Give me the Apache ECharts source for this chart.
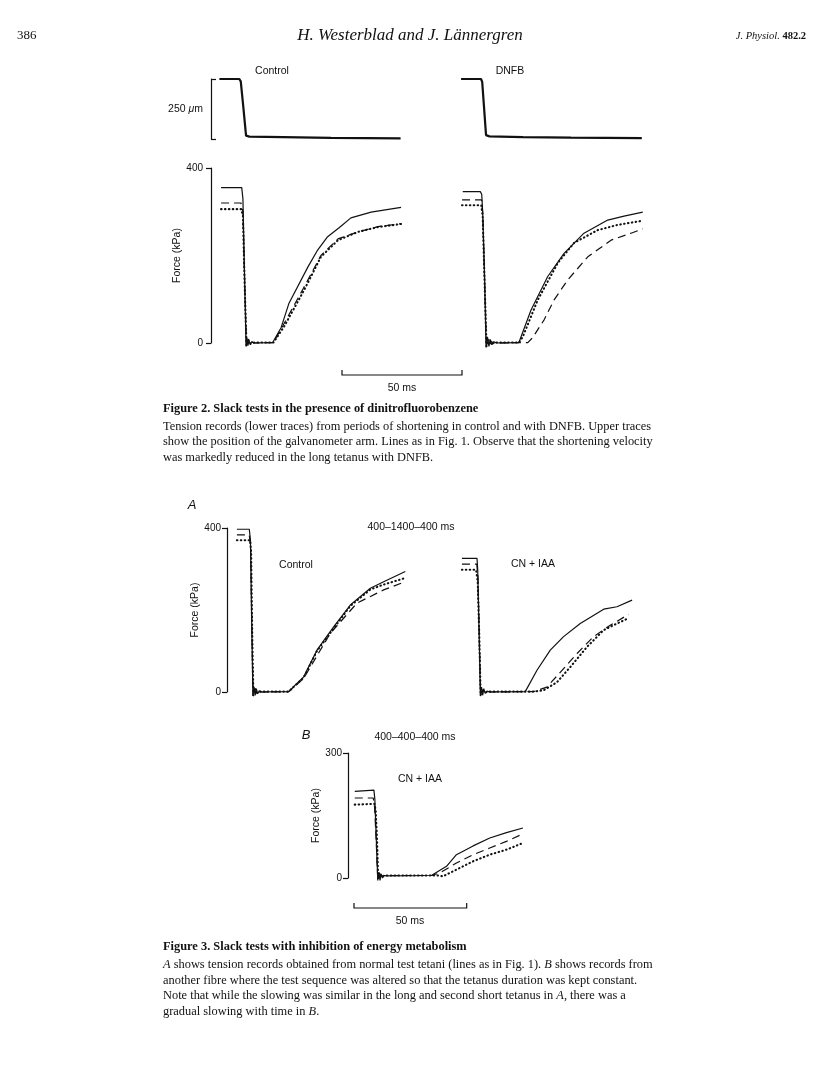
<!DOCTYPE html>
<html>
<head>
<meta charset="utf-8">
<title>Slack tests</title>
<script src="https://cdn.jsdelivr.net/npm/echarts@6/dist/echarts.min.js"></script>
<style>
  html, body { margin: 0; padding: 0; background: #fff; }
  #main { width: 816px; height: 1091px; }
</style>
</head>
<body>
<div id="main"></div>
<script>
// ---- data (time in ms from the axis, force in kPa, position in um) ----
// Figure 2, galvanometer position
var fig2PosControl = [[3.5,250],[11.8,250],[12.4,240],[13.5,130],[14.6,14],[16,10],[30,8],[50,5],[79,3]];
var fig2PosDnfb = [[4.2,250],[12.5,250],[13,238],[14.6,16],[16,11],[30,8],[50,6],[79.5,4]];

// Figure 2, force, Control
var fig2CtrlSolid = [[4.2,355],[12.8,355],[13.3,330],[14,150],[14.6,-8],[15,12],[15.4,-6],[15.8,6],[16.3,-3],[17,3],[18,0],[25.7,1],[29.2,35],[32.5,91],[40.4,174],[44.5,213],[48.6,243],[53.5,264],[58.3,286],[66.7,299],[79.2,310]];
var fig2CtrlDash = [[4.2,320],[12.5,320],[13.3,300],[14,140],[14.8,-4],[16,4],[18,0],[26,1],[30,40],[38.5,125],[45.8,200],[52.9,238],[61.3,254],[69.6,266],[79.2,273]];
var fig2CtrlDot = [[4.2,306],[12.6,306],[13.3,290],[14,140],[14.8,-6],[15.5,8],[16.5,-2],[18,1],[26,1],[30.4,37],[38.8,121],[45.8,197],[52.9,235],[61.3,254],[69.6,265],[79.2,272]];

// Figure 2, force, DNFB
var fig2DnfbSolid = [[4.9,346],[12.2,346],[12.8,340],[13.2,300],[14,150],[14.6,-10],[15.2,14],[15.8,-8],[16.4,8],[17,-4],[17.8,3],[19,0],[28.3,1],[33.3,75],[40.3,152],[47.1,205],[55.4,251],[65.3,281],[72.1,290],[79.9,299]];
var fig2DnfbDash = [[4.6,327],[12.8,327],[13.3,290],[14,140],[14.8,-6],[16,5],[18,0],[32,1],[34,12],[38.8,53],[42.9,98],[48.6,144],[57,197],[66.7,235],[75,251],[79.9,261]];
var fig2DnfbDot = [[4.6,315],[12.6,315],[13.2,290],[14,140],[14.8,-8],[15.6,8],[16.6,-3],[18,1],[28.3,1],[29.9,14],[36.1,98],[44.5,183],[51.3,229],[61.1,258],[69.5,270],[79.2,279]];

// Figure 3A, Control
var fig3aCtrlSolid = [[4.4,397],[9.9,397],[10.4,370],[11,150],[11.5,-10],[12,12],[12.5,-8],[13,8],[13.6,-4],[14.3,3],[15.5,0],[27.3,1],[34,37],[39.9,102],[47.3,159],[54.7,212],[63.6,253],[69.5,269],[79.1,294]];
var fig3aCtrlDash = [[4.4,383],[9.9,383],[10.5,350],[11.1,140],[11.6,-5],[12.5,6],[14,0],[27.5,1],[34,33],[45.8,143],[57.7,217],[69.5,249],[79.1,269]];
var fig3aCtrlDot = [[4.4,370],[10.3,370],[10.7,340],[11.2,140],[11.7,-8],[12.4,8],[13.4,-3],[15,1],[27.3,1],[34,35],[39.9,100],[47.3,155],[54.7,210],[63.6,250],[69.5,262],[79.1,278]];

// Figure 3A, CN + IAA
var fig3aCnSolid = [[4.4,326],[11.1,326],[11.4,300],[12,150],[12.6,-10],[13.1,12],[13.6,-8],[14.1,8],[14.7,-3],[15.5,2],[17,0],[32.5,1],[37.7,53],[43.6,102],[49.5,135],[56.9,167],[67.3,202],[73.2,208],[79.9,224]];
var fig3aCnDash = [[4.4,312],[11,312],[11.5,280],[12.1,140],[12.7,-5],[13.6,5],[15,0],[36.2,1],[42.1,12],[49.5,57],[55.5,94],[62.8,135],[70.2,163],[78.3,189]];
var fig3aCnDot = [[4.4,298],[10.7,298],[11.4,270],[12.1,140],[12.7,-8],[13.4,7],[14.5,-2],[16,1],[36,1],[40.6,4],[46.6,24],[52.5,61],[59.9,110],[67.3,151],[73.2,167],[78.3,180]];

// Figure 3B, CN + IAA (400-400-400 ms)
var fig3bSolid = [[3,208],[11.5,211],[11.9,190],[12.5,100],[13.2,-6],[13.7,14],[14.2,-6],[14.7,10],[15.3,0],[16,6],[17,5],[37,6],[43.7,28],[48.1,56],[55.5,77],[62.9,96],[70.3,109],[77.6,120]];
var fig3bDash = [[3,192],[11.2,192],[11.8,170],[12.5,90],[13.2,-2],[14,10],[15,4],[16,6],[37,6],[40.7,12],[48.1,36],[55.5,56],[62.9,72],[70.3,88],[77.6,106]];
var fig3bDot = [[3,176],[11.8,178],[12.3,160],[12.9,90],[13.4,-4],[14,12],[14.8,2],[16,6],[40,6],[42.1,4],[48.1,20],[55.5,40],[62.9,56],[70.3,68],[77.6,84]];

// axis ranges / tick labels
var posRange = [0, 250];
var fig2ForceTicks = [0, 400];
var fig3aForceTicks = [0, 400];
var fig3bForceTicks = [0, 300];
var timeMax = 82;
var scaleBarMs = 50;

// ---- layout ----
var P2 = 2.4;    // px per ms, figure 2
var P3 = 2.254;  // px per ms, figure 3
var BLACK = '#111';
var SANS = '"Liberation Sans", Arial, sans-serif';
var SERIF = '"Liberation Serif", "Times New Roman", serif';

var chart = echarts.init(document.getElementById('main'), null, { renderer: 'canvas' });

var grids = [], xAxes = [], yAxes = [], series = [];

// one panel = one grid; kind: 'force' (visible y axis), 'bracket' (250 um bar), 'none'
function panel(left, top, height, pxPerMs, ticks, kind, nameGap, labelMargin) {
    var i = grids.length;
    grids.push({ left: left, top: top, width: timeMax * pxPerMs, height: height });
    xAxes.push({ gridIndex: i, type: 'value', min: 0, max: timeMax, show: false });
    var y = {
        gridIndex: i, type: 'value',
        min: ticks[0], max: ticks[ticks.length - 1], interval: ticks[ticks.length - 1] - ticks[0],
        show: kind !== 'none',
        splitLine: { show: false },
        axisLine: { show: true, lineStyle: { color: BLACK, width: 1.2 } },
        axisTick: { show: true, length: 5, inside: kind === 'bracket', lineStyle: { color: BLACK, width: 1.2 } },
        axisLabel: { show: kind === 'force', color: BLACK, fontSize: 10, fontFamily: SANS, margin: labelMargin || 8 }
    };
    if (kind === 'force') {
        y.name = 'Force (kPa)';
        y.nameLocation = 'middle';
        y.nameGap = nameGap;
        y.nameTextStyle = { color: BLACK, fontSize: 10.5, fontFamily: SANS };
    }
    yAxes.push(y);
    return i;
}

function trace(idx, data, style) {
    var ls = { color: BLACK, width: 1.2, type: 'solid' };
    if (style === 'dash') ls = { color: BLACK, width: 1.2, type: [8, 5] };
    if (style === 'dot') ls = { color: BLACK, width: 2.1, type: [0.5, 3.4], cap: 'round' };
    if (style === 'thick') ls = { color: BLACK, width: 2.2, type: 'solid' };
    series.push({
        type: 'line', xAxisIndex: idx, yAxisIndex: idx, data: data,
        showSymbol: false, symbol: 'none', clip: false, silent: true,
        lineStyle: ls, z: style === 'dot' ? 3 : 2
    });
}

// Figure 2
var gPosC = panel(211, 79, 60, P2, posRange, 'bracket');
var gPosD = panel(451, 79, 60, P2, posRange, 'none');
var gF2C = panel(211, 168, 175, P2, fig2ForceTicks, 'force', 19, 8);
var gF2D = panel(451, 168, 175, P2, fig2ForceTicks, 'none');
// Figure 3
var gF3C = panel(227, 528, 164, P3, fig3aForceTicks, 'force', 23, 6);
var gF3N = panel(452, 528, 164, P3, fig3aForceTicks, 'none');
var gF3B = panel(348, 753, 125, P3, fig3bForceTicks, 'force', 26, 6);

trace(gPosC, fig2PosControl, 'thick');
trace(gPosD, fig2PosDnfb, 'thick');

trace(gF2C, fig2CtrlSolid, 'solid');
trace(gF2C, fig2CtrlDash, 'dash');
trace(gF2C, fig2CtrlDot, 'dot');
trace(gF2D, fig2DnfbSolid, 'solid');
trace(gF2D, fig2DnfbDash, 'dash');
trace(gF2D, fig2DnfbDot, 'dot');

trace(gF3C, fig3aCtrlSolid, 'solid');
trace(gF3C, fig3aCtrlDash, 'dash');
trace(gF3C, fig3aCtrlDot, 'dot');
trace(gF3N, fig3aCnSolid, 'solid');
trace(gF3N, fig3aCnDash, 'dash');
trace(gF3N, fig3aCnDot, 'dot');

trace(gF3B, fig3bSolid, 'solid');
trace(gF3B, fig3bDash, 'dash');
trace(gF3B, fig3bDot, 'dot');

// ---- texts and scale bars ----
function txt(x, y, text, font, align, rich) {
    var st = { text: text, x: x, y: y, font: font, fill: BLACK,
               textAlign: align || 'left', textVerticalAlign: 'middle',
               align: align || 'left', verticalAlign: 'middle' };
    if (rich) st.rich = rich;
    return { type: 'text', silent: true, style: st };
}
function scaleBar(x, y, ms, pxPerMs) {
    var w = ms * pxPerMs;
    return { type: 'polyline', silent: true,
             shape: { points: [[x, y - 5], [x, y], [x + w, y], [x + w, y - 5]] },
             style: { stroke: BLACK, lineWidth: 1.2, fill: null } };
}

var capFont = '12.4px ' + SERIF;
var capBold = 'bold 12.4px ' + SERIF;
var itRich = { i: { font: 'italic 12.4px ' + SERIF, fill: BLACK } };

var graphics = [
    txt(17, 36, '386', '13px ' + SERIF, 'left'),
    txt(410, 36, 'H. Westerblad and J. Lännergren', 'italic 17px ' + SERIF, 'center'),
    txt(806, 36, '{i|J. Physiol.} {b|482.2}', '10.5px ' + SERIF, 'right', {
        i: { font: 'italic 10.5px ' + SERIF, fill: BLACK },
        b: { font: 'bold 10.5px ' + SERIF, fill: BLACK }
    }),

    txt(272, 71, 'Control', '10.5px ' + SANS, 'center'),
    txt(510, 71, 'DNFB', '10.5px ' + SANS, 'center'),
    txt(203, 109, '250 {m|μ}m', '10.5px ' + SANS, 'right', { m: { font: 'italic 10.5px ' + SANS, fill: BLACK } }),
    scaleBar(342, 375, scaleBarMs, P2),
    txt(402, 388, '50 ms', '10.5px ' + SANS, 'center'),

    txt(163, 409, 'Figure 2. Slack tests in the presence of dinitrofluorobenzene', capBold, 'left'),
    txt(163, 427, 'Tension records (lower traces) from periods of shortening in control and with DNFB. Upper traces', capFont, 'left'),
    txt(163, 442, 'show the position of the galvanometer arm. Lines as in Fig. 1. Observe that the shortening velocity', capFont, 'left'),
    txt(163, 458, 'was markedly reduced in the long tetanus with DNFB.', capFont, 'left'),

    txt(192, 505, 'A', 'italic 13px ' + SANS, 'center'),
    txt(411, 527, '400–1400–400 ms', '10.5px ' + SANS, 'center'),
    txt(296, 565, 'Control', '10.5px ' + SANS, 'center'),
    txt(533, 564, 'CN + IAA', '10.5px ' + SANS, 'center'),

    txt(306, 735, 'B', 'italic 13px ' + SANS, 'center'),
    txt(415, 737, '400–400–400 ms', '10.5px ' + SANS, 'center'),
    txt(420, 779, 'CN + IAA', '10.5px ' + SANS, 'center'),
    scaleBar(354, 908, scaleBarMs, P3),
    txt(410, 921, '50 ms', '10.5px ' + SANS, 'center'),

    txt(163, 947, 'Figure 3. Slack tests with inhibition of energy metabolism', capBold, 'left'),
    txt(163, 965, '{i|A} shows tension records obtained from normal test tetani (lines as in Fig. 1). {i|B} shows records from', capFont, 'left', itRich),
    txt(163, 981, 'another fibre where the test sequence was altered so that the tetanus duration was kept constant.', capFont, 'left'),
    txt(163, 996, 'Note that while the slowing was similar in the long and second short tetanus in {i|A}, there was a', capFont, 'left', itRich),
    txt(163, 1012, 'gradual slowing with time in {i|B}.', capFont, 'left', itRich)
];

var option = {
    backgroundColor: '#fff',
    animation: false,
    grid: grids,
    xAxis: xAxes,
    yAxis: yAxes,
    series: series,
    graphic: { elements: graphics }
};
chart.setOption(option);
</script>
</body>
</html>
